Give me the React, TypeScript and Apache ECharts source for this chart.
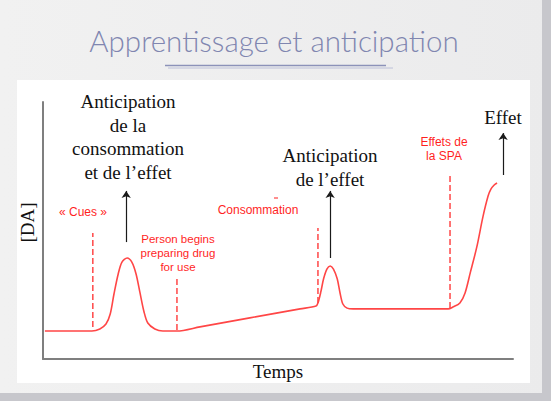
import * as echarts from "echarts";
import { useEffect, useRef } from "react";

// Dopamine level over time, in arbitrary units (time 0-100, [DA] 0-100)
const curveTime = [
  0.4, 10.4, 12.1, 13.4, 14.3, 15.1, 16.0, 16.8, 17.9, 18.9, 19.8, 20.6, 21.5,
  22.3, 23.8, 25.5, 28.5, 33.4, 44.0, 54.7, 58.1, 58.5, 59.1, 59.7, 60.4, 61.1,
  61.8, 62.6, 63.2, 63.8, 64.7, 66.0, 86.2, 87.2, 88.7, 89.8, 90.9, 92.3, 93.6,
  94.7, 95.3, 96.0, 96.6,
];
const curveDA = [
  10.9, 10.9, 11.7, 13.6, 17.5, 25.3, 33.1, 37.7, 39.3, 37.7, 33.1, 26.1, 18.3,
  14.0, 11.7, 10.9, 10.9, 12.5, 16.0, 19.5, 20.6, 21.8, 26.0, 31.2, 35.0, 36.2,
  35.0, 31.2, 25.7, 21.4, 19.8, 19.5, 19.5, 20.2, 21.8, 25.7, 33.5, 43.6, 55.3,
  63.4, 66.1, 67.7, 68.5,
];

// Red dashed event markers
const markerNames = [
  "« Cues »",
  "Person begins\npreparing drug\nfor use",
  "Consommation",
  "Effets de\nla SPA",
];
const markerTime = [10.6, 28.5, 58.5, 86.6];
const markerFrom = [12.5, 11.3, 21.8, 19.8];
const markerTo = [49.0, 32.3, 51.0, 71.6];

// Black arrows pointing to the annotations
const arrowNames = [
  "Anticipation\nde la\nconsommation\net de l’effet",
  "Anticipation\nde l’effet",
  "Effet",
];
const arrowTime = [17.7, 61.1, 97.9];
const arrowFrom = [45.5, 39.3, 71.6];
const arrowTo = [65.4, 65.4, 87.9];

const RED = "#ff4646";
const RED_TEXT = "#ff1f1f";
const SERIF = "'Liberation Serif', 'Times New Roman', serif";
const SANS = "'Liberation Sans', Arial, sans-serif";

export default function App() {
  const chartRef = useRef<HTMLDivElement | null>(null);

  useEffect(() => {
    const el = chartRef.current;
    if (!el) return;
    const chart = echarts.init(el, undefined, { renderer: "svg" });

    const blackText = (text: string, x: number, y: number) => ({
      type: "text",
      x,
      y,
      z: 100,
      style: {
        text,
        fontFamily: SERIF,
        fontSize: 19,
        lineHeight: 23.5,
        fill: "#111",
        align: "center",
        verticalAlign: "top",
      },
    });
    const redText = (text: string, x: number, y: number, size = 12) => ({
      type: "text",
      x,
      y,
      z: 100,
      style: {
        text,
        fontFamily: SANS,
        fontSize: size,
        lineHeight: 14,
        fill: RED_TEXT,
        align: "center",
        verticalAlign: "top",
      },
    });

    const option: any = {
      animation: false,
      backgroundColor: {
        type: "linear",
        x: 0,
        y: 0,
        x2: 1,
        y2: 0,
        colorStops: [
          { offset: 0, color: "#f1f1f1" },
          { offset: 1, color: "#ebebec" },
        ],
      },
      grid: { left: 43, right: 38, top: 102, bottom: 42, outerBoundsMode: "none" },
      xAxis: {
        type: "value",
        min: 0,
        max: 100,
        name: "Temps",
        nameLocation: "middle",
        nameGap: 3,
        nameTextStyle: {
          fontFamily: SERIF,
          fontSize: 19,
          color: "#111",
          verticalAlign: "top",
        },
        axisLine: { lineStyle: { color: "#7f7f7f", width: 2 } },
        axisTick: { show: false },
        axisLabel: { show: false },
        splitLine: { show: false },
      },
      yAxis: {
        type: "value",
        min: 0,
        max: 100,
        name: "[DA]",
        nameLocation: "middle",
        nameRotate: 90,
        nameGap: 6,
        nameTextStyle: {
          fontFamily: SERIF,
          fontSize: 19,
          color: "#111",
          padding: [0, 0, 0, 16],
        },
        axisLine: { lineStyle: { color: "#7f7f7f", width: 2 } },
        axisTick: { show: false },
        axisLabel: { show: false },
        splitLine: { show: false },
      },
      series: [
        {
          type: "line",
          data: curveTime.map((t, i) => [t, curveDA[i]]),
          smooth: 0.3,
          showSymbol: false,
          lineStyle: { color: RED, width: 1.6 },
          silent: true,
          z: 5,
        },
        ...markerTime.map((t, i) => ({
          type: "line",
          name: markerNames[i],
          data: [
            [t, markerFrom[i]],
            [t, markerTo[i]],
          ],
          showSymbol: false,
          lineStyle: { color: RED, width: 1.5, type: [6, 3] },
          silent: true,
          z: 4,
        })),
        {
          type: "line",
          data: [],
          silent: true,
          markLine: {
            silent: true,
            symbol: ["none", "arrow"],
            symbolSize: 7,
            label: { show: false },
            lineStyle: { color: "#1a1a1a", width: 1.2, type: "solid" },
            data: arrowTime.map((t, i) => [
              { coord: [t, arrowFrom[i]] },
              { coord: [t, arrowTo[i]] },
            ]),
          },
        },
      ],
      graphic: [
        {
          type: "rect",
          z: -10,
          shape: { x: 542, y: 0, width: 9, height: 401 },
          style: { fill: "#c7c7cc" },
        },
        {
          type: "rect",
          z: -10,
          shape: { x: 0, y: 393, width: 551, height: 8 },
          style: { fill: "#c7c7cc" },
        },
        {
          type: "rect",
          z: -9,
          shape: { x: 17, y: 80, width: 513, height: 303 },
          style: { fill: "#ffffff" },
        },
        {
          type: "text",
          x: 274,
          y: 40,
          z: 100,
          style: {
            text: "Apprentissage et anticipation",
            fontFamily: "Lato, 'Open Sans', sans-serif",
            fontWeight: 300,
            fontSize: 29.5,
            fill: "#8086b0",
            align: "center",
            verticalAlign: "middle",
          },
        },
        {
          type: "line",
          z: 100,
          shape: { x1: 165, y1: 65.5, x2: 386, y2: 65.5 },
          style: { stroke: "#8c92b9", lineWidth: 1.3 },
        },
        {
          type: "line",
          z: 100,
          shape: { x1: 168, y1: 68, x2: 393, y2: 68 },
          style: { stroke: "#bcc0d8", lineWidth: 1 },
        },
        blackText(arrowNames[0], 128, 90),
        blackText(arrowNames[1], 330, 144),
        blackText(arrowNames[2], 503, 105.5),
        redText(markerNames[0], 83, 205),
        redText(markerNames[1], 178, 232, 11.5),
        redText(markerNames[2], 258, 203),
        redText(markerNames[3], 444, 135),
        {
          type: "line",
          z: 100,
          shape: { x1: 274, y1: 198, x2: 278, y2: 198 },
          style: { stroke: RED_TEXT, lineWidth: 1 },
        },
      ],
    };

    chart.setOption(option);
    return () => {
      if (!chart.isDisposed()) chart.dispose();
    };
  }, []);

  return (
    <div
      ref={chartRef}
      style={{ position: "fixed", left: 0, top: 0, width: 551, height: 401 }}
    />
  );
}
